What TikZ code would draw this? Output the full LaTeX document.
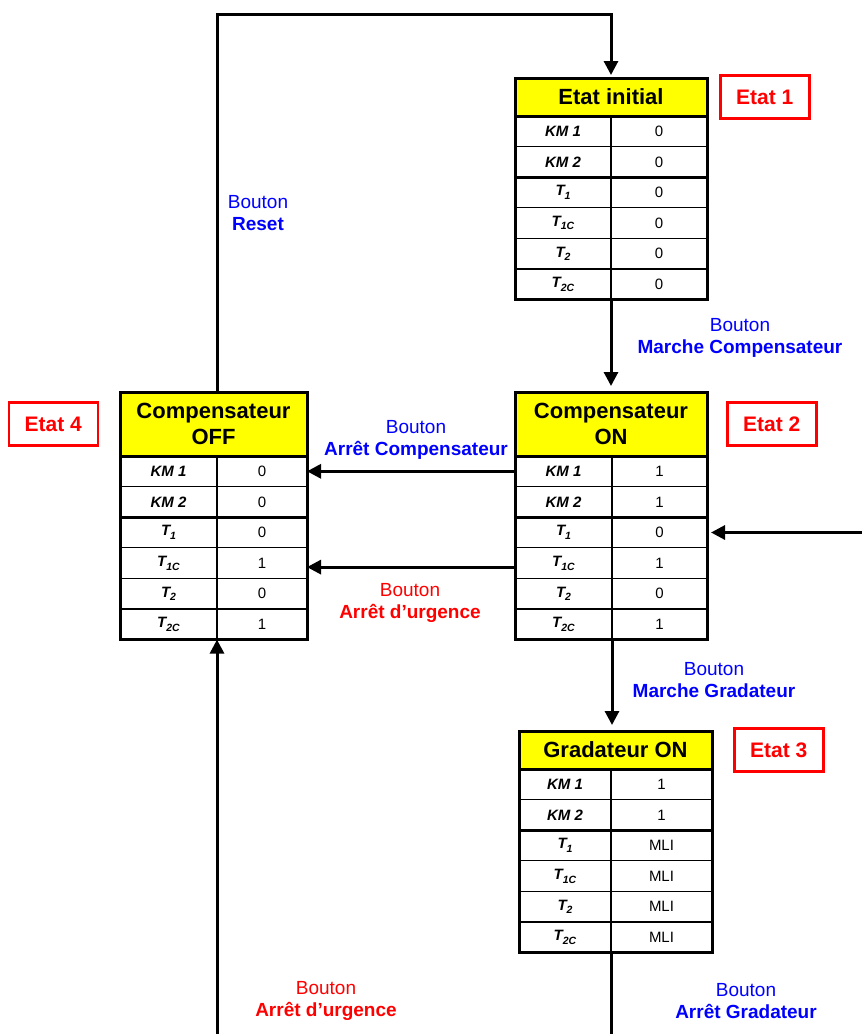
\documentclass[tikz,border=0pt]{standalone}
\usepackage{fontspec}
\setmainfont{Liberation Sans}
\usetikzlibrary{arrows.meta,calc,positioning}
\definecolor{headyellow}{HTML}{FFFF00}
\definecolor{etatred}{HTML}{FF0000}
\definecolor{boutonblue}{HTML}{0000FF}
\newcommand{\Tsub}[1]{T\raisebox{-0.45ex}{\fontsize{10.5}{11}\selectfont #1}}
\newcommand{\rowname}[1]{\ifcase#1\or KM 1\or KM 2\or \Tsub{1}\or \Tsub{1C}\or \Tsub{2}\or \Tsub{2C}\fi}
\tikzset{
  headbox/.style={draw=black, fill=headyellow, line width=1.3pt, inner sep=0pt, outer sep=0pt, align=center, font=\fontsize{22}{26}\selectfont\bfseries},
  labcell/.style={draw=black, line width=1.3pt, inner sep=0pt, outer sep=0pt, minimum height=30.6pt, font=\fontsize{15}{17}\selectfont\bfseries\itshape},
  valcell/.style={draw=black, line width=1.3pt, inner sep=0pt, outer sep=0pt, minimum height=30.6pt, font=\fontsize{15}{17}\selectfont},
  frame/.style={black, line width=3pt},
  wire/.style={black, line width=3pt},
  flow/.style={black, line width=3pt, -{Triangle[length=14pt,width=14pt]}},
  etatbox/.style={draw=etatred, line width=2.5pt, minimum width=89pt, minimum height=43pt, inner sep=0pt, text=etatred, font=\fontsize{21}{24}\selectfont\bfseries},
  bluelabel/.style={text=boutonblue, align=center, font=\fontsize{19}{22.5}\selectfont},
  redlabel/.style={text=etatred, align=center, font=\fontsize{19}{22.5}\selectfont}
}
% #1 name, #2 left, #3 divider, #4 right, #5 top, #6 header bottom, #7 header, #8 values
\newcommand{\statetable}[8]{%
  \pgfmathsetmacro{\tabw}{#4-#2}%
  \pgfmathsetmacro{\labw}{#3-#2}%
  \pgfmathsetmacro{\valw}{#4-#3}%
  \pgfmathsetmacro{\headh}{#6-#5}%
  \node[headbox, minimum width=\tabw pt, minimum height=\headh pt, anchor=north west] (#1) at (#2,#5) {#7};
  \foreach \val [count=\i] in {#8} {
    \pgfmathsetmacro{\rowy}{#6+(\i-1)*30.6}
    \node[labcell, minimum width=\labw pt, anchor=north west] (#1-l\i) at (#2,\rowy) {\rowname{\i}};
    \node[valcell, minimum width=\valw pt, anchor=north west] (#1-v\i) at (#3,\rowy) {\val};
  }
  \draw[frame] (#1.north west) rectangle (#1-v6.south east);
  \draw[frame] (#1.south west) -- (#1.south east);
  \draw[frame] (#1-l2.south west) -- (#1-v2.south east);
}

\begin{document}
\begin{tikzpicture}[x=1pt, y=-1pt]
  \useasboundingbox (0,0) rectangle (862,1034);
  \coordinate (topturn) at (0,14);
  \coordinate (edgeE) at (862,0);
  \coordinate (edgeS) at (0,1034);

  % the four states
  \statetable{init}{515}{611}{707}{78}{116}{Etat initial}{0,0,0,0,0,0}
  \statetable{on}{515}{612}{707}{392}{456}{Compensateur\\ON}{1,1,0,1,0,1}
  \statetable{off}{120}{217}{307}{392}{456}{Compensateur\\OFF}{0,0,0,1,0,1}
  \statetable{grad}{519}{611}{712}{731}{769}{Gradateur ON}{1,1,MLI,MLI,MLI,MLI}

  \node[etatbox, right=12pt of init] (etat1) {Etat 1};
  \node[etatbox, right=19pt of on] (etat2) {Etat 2};
  \node[etatbox, right=21pt of grad] (etat3) {Etat 3};
  \node[etatbox, left=21pt of off] (etat4) {Etat 4};

  % transitions
  \draw[flow, shorten >=3pt] (off.north -| off-l1.east) -- (off-l1.east |- topturn) -| (init.north -| init-l1.east);
  \draw[flow, shorten >=6pt] (init-l6.south east) -- (on.north -| init-l6.south east);
  \draw[flow] (on-l1.west) -- (off-v1.east);
  \draw[flow] ([yshift=-4pt]on-l4.west) -- ([yshift=-4pt]off-v4.east);
  \draw[flow, shorten >=4pt] (edgeE |- on-v3.east) -- (on-v3.east);
  \draw[flow, shorten >=6pt] (on-l6.south east) -- (grad.north -| on-l6.south east);
  \draw[wire] (grad-l6.south east) -- (edgeS -| grad-l6.south east);
  \draw[flow] (edgeS -| off-l6.south east) -- (off-l6.south east);

  % button labels
  \node[bluelabel] (reset) at (258,213) {Bouton\\\textbf{Reset}};
  \node[bluelabel] (marchecomp) at (740,338) {Bouton\\\textbf{Marche Compensateur}};
  \node[bluelabel] (arretcomp) at (416,440) {Bouton\\\textbf{Arrêt Compensateur}};
  \node[redlabel] (urgence1) at (410,603) {Bouton\\\textbf{Arrêt d’urgence}};
  \node[bluelabel] (marchegrad) at (714,680) {Bouton\\\textbf{Marche Gradateur}};
  \node[redlabel] (urgence2) at (326,1001) {Bouton\\\textbf{Arrêt d’urgence}};
  \node[bluelabel] (arretgrad) at (746,1001) {Bouton\\\textbf{Arrêt Gradateur}};
\end{tikzpicture}
\end{document}
